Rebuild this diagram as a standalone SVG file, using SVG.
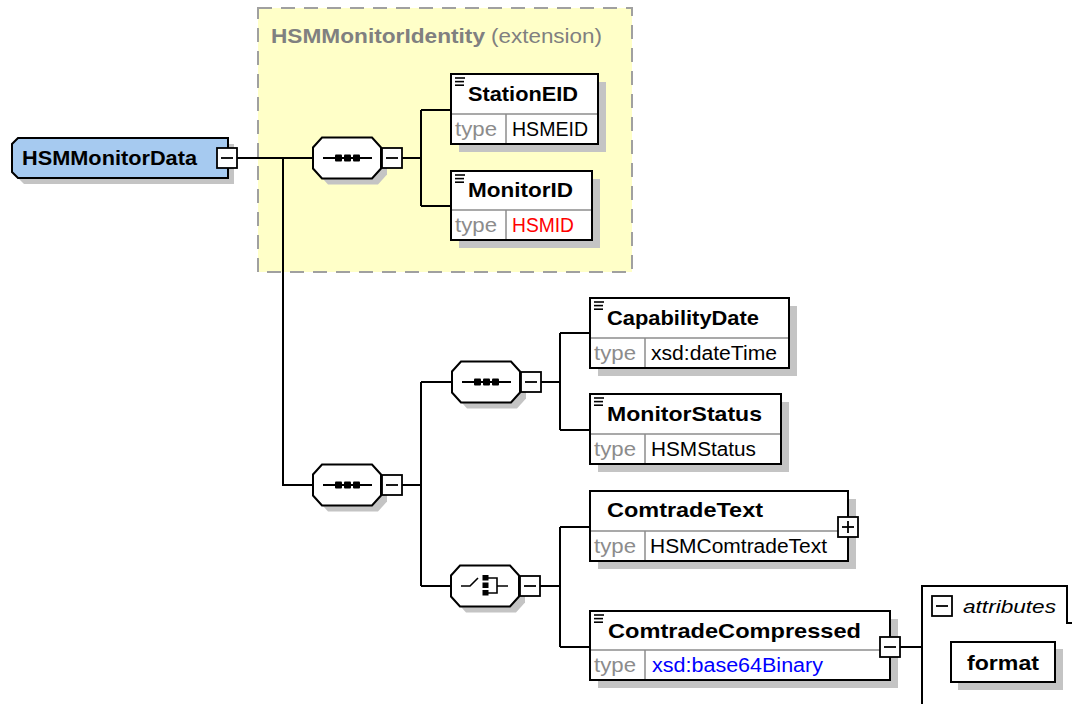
<svg xmlns="http://www.w3.org/2000/svg" xmlns:xlink="http://www.w3.org/1999/xlink" width="1072" height="704" viewBox="0 0 1072 704">
<style>
  .bg{fill:#ffffff}
  .ext{fill:#ffffc8;stroke:#a0a0a0;stroke-width:2;stroke-dasharray:14 9}
  .shadow{fill:#c4c4c4;stroke:none}
  .box{fill:#ffffff;stroke:#000000;stroke-width:2}
  .root{fill:#a6caf0;stroke:#000000;stroke-width:2}
  .div{stroke:#8c8c8c;stroke-width:1.5;fill:none}
  .conn{stroke:#000000;stroke-width:2;fill:none}
  .icon{stroke:#000000;stroke-width:1.6;fill:none}
  .sq{fill:#000000}
  .name{font-family:"Liberation Sans",Arial,sans-serif;font-weight:bold;font-size:21px;fill:#000000}
  .ttl{font-family:"Liberation Sans",Arial,sans-serif;font-weight:bold;font-size:21px;fill:#808080}
  .ext-t{font-family:"Liberation Sans",Arial,sans-serif;font-size:20px;fill:#808080}
  .tl{font-family:"Liberation Sans",Arial,sans-serif;font-size:20px;fill:#8c8c8c}
  .tv{font-family:"Liberation Sans",Arial,sans-serif;font-size:20px;fill:#000000}
  .red{fill:#ff0000}
  .blue{fill:#0000ff}
  .ital{font-family:"Liberation Sans",Arial,sans-serif;font-style:italic;font-size:19px;fill:#000000}
</style>
<defs>
  <polygon id="oct" points="9,-20.5 59,-20.5 68,-10.5 68,10.5 59,20.5 9,20.5 0,10.5 0,-10.5"/>
  <g id="minus">
    <rect x="0" y="-10" width="20" height="20" fill="#ffffff" stroke="#000000" stroke-width="1.8"/>
    <line x1="4" y1="0" x2="16" y2="0" stroke="#000000" stroke-width="1.8"/>
  </g>
  <g id="plus">
    <rect x="0" y="-10" width="20" height="20" fill="#ffffff" stroke="#000000" stroke-width="1.8"/>
    <line x1="4" y1="0" x2="16" y2="0" stroke="#000000" stroke-width="1.8"/>
    <line x1="10" y1="-6" x2="10" y2="6" stroke="#000000" stroke-width="1.8"/>
  </g>
  <g id="doc">
    <line x1="0" y1="0" x2="10" y2="0" stroke="#000000" stroke-width="1.6"/>
    <line x1="0" y1="3.6" x2="9" y2="3.6" stroke="#000000" stroke-width="1.6"/>
    <line x1="0" y1="7.2" x2="9" y2="7.2" stroke="#000000" stroke-width="1.6"/>
  </g>
  <g id="seqIcon">
    <line x1="10" y1="0" x2="59" y2="0" stroke="#000000" stroke-width="1.8"/>
    <rect x="22" y="-3.5" width="7" height="7" rx="1" fill="#000000"/>
    <rect x="31" y="-3.5" width="7" height="7" rx="1" fill="#000000"/>
    <rect x="40" y="-3.5" width="7" height="7" rx="1" fill="#000000"/>
  </g>
</defs>

<rect class="bg" x="0" y="0" width="1072" height="704"/>

<g id="HSMMonitorIdentity">
  <rect class="ext" x="258" y="8" width="374" height="264"/>
  <text class="ttl" x="271" y="43" textLength="214" lengthAdjust="spacingAndGlyphs">HSMMonitorIdentity</text>
  <text class="ext-t" x="491" y="43" textLength="111" lengthAdjust="spacingAndGlyphs">(extension)</text>
</g>

<g id="connectors">
  <path class="conn" d="M237,158 H313"/>
  <path class="conn" d="M283,158 V485 H313"/>
  <path class="conn" d="M402,158 H421 M421,110 V206 M421,110 H451 M421,206 H451"/>
  <path class="conn" d="M402,485 H421 M421,382 V586 M421,382 H452 M421,586 H451"/>
  <path class="conn" d="M540,382 H560 M560,333 V430 M560,333 H590 M560,430 H590"/>
  <path class="conn" d="M540,586 H560 M560,527 V647 M560,527 H590 M560,647 H590"/>
  <path class="conn" d="M900,647 H922"/>
</g>

<g id="HSMMonitorData">
  <polygon class="shadow" points="24,144 234,144 234,184 24,184 18,178 18,150"/>
  <polygon class="root" points="18,138 228,138 228,178 18,178 12,172 12,144"/>
  <text class="name" x="22" y="165" textLength="175" lengthAdjust="spacingAndGlyphs">HSMMonitorData</text>
  <use xlink:href="#minus" href="#minus" x="217" y="158"/>
</g>

<g id="seq1">
  <use xlink:href="#oct" href="#oct" class="shadow" transform="translate(319,164)"/>
  <use xlink:href="#oct" href="#oct" class="box" transform="translate(313,158)"/>
  <use xlink:href="#seqIcon" href="#seqIcon" transform="translate(313,158)"/>
  <use xlink:href="#minus" href="#minus" x="382" y="158"/>
</g>

<g id="StationEID">
  <rect class="shadow" x="459" y="82" width="147" height="70"/>
  <rect class="box" x="451" y="74" width="147" height="70"/>
  <line class="div" x1="452" y1="114" x2="597" y2="114"/>
  <line class="div" x1="506" y1="114" x2="506" y2="143"/>
  <use xlink:href="#doc" href="#doc" x="455" y="78"/>
  <text class="name" x="468" y="101" textLength="110" lengthAdjust="spacingAndGlyphs">StationEID</text>
  <text class="tl" x="455" y="136" textLength="42" lengthAdjust="spacingAndGlyphs">type</text>
  <text class="tv" x="512" y="136" textLength="76" lengthAdjust="spacingAndGlyphs">HSMEID</text>
</g>

<g id="MonitorID">
  <rect class="shadow" x="459" y="179" width="141" height="69"/>
  <rect class="box" x="451" y="171" width="141" height="69"/>
  <line class="div" x1="452" y1="210" x2="591" y2="210"/>
  <line class="div" x1="506" y1="210" x2="506" y2="239"/>
  <use xlink:href="#doc" href="#doc" x="455" y="175"/>
  <text class="name" x="468" y="197" textLength="105" lengthAdjust="spacingAndGlyphs">MonitorID</text>
  <text class="tl" x="455" y="232" textLength="42" lengthAdjust="spacingAndGlyphs">type</text>
  <text class="tv red" x="512" y="232" textLength="62" lengthAdjust="spacingAndGlyphs">HSMID</text>
</g>

<g id="seq2">
  <use xlink:href="#oct" href="#oct" class="shadow" transform="translate(319,491)"/>
  <use xlink:href="#oct" href="#oct" class="box" transform="translate(313,485)"/>
  <use xlink:href="#seqIcon" href="#seqIcon" transform="translate(313,485)"/>
  <use xlink:href="#minus" href="#minus" x="382" y="485"/>
</g>

<g id="seq3">
  <use xlink:href="#oct" href="#oct" class="shadow" transform="translate(458,388)"/>
  <use xlink:href="#oct" href="#oct" class="box" transform="translate(452,382)"/>
  <use xlink:href="#seqIcon" href="#seqIcon" transform="translate(452,382)"/>
  <use xlink:href="#minus" href="#minus" x="521" y="382"/>
</g>

<g id="choice">
  <use xlink:href="#oct" href="#oct" class="shadow" transform="translate(457,592)"/>
  <use xlink:href="#oct" href="#oct" class="box" transform="translate(451,586)"/>
  <path class="icon" d="M461,586 H470 L478,578"/>
  <rect class="sq" x="482.5" y="575" width="6" height="5.5"/>
  <rect class="sq" x="482.5" y="582.5" width="6" height="5.5"/>
  <rect class="sq" x="482.5" y="590" width="6" height="5.5"/>
  <path class="icon" d="M488,578 H497 V593 H488 M497,586 H508"/>
  <use xlink:href="#minus" href="#minus" x="520" y="586"/>
</g>

<g id="CapabilityDate">
  <rect class="shadow" x="598" y="306" width="199" height="70"/>
  <rect class="box" x="590" y="298" width="199" height="70"/>
  <line class="div" x1="591" y1="338" x2="788" y2="338"/>
  <line class="div" x1="645" y1="338" x2="645" y2="367"/>
  <use xlink:href="#doc" href="#doc" x="594" y="302"/>
  <text class="name" x="607" y="325" textLength="152" lengthAdjust="spacingAndGlyphs">CapabilityDate</text>
  <text class="tl" x="594" y="360" textLength="42" lengthAdjust="spacingAndGlyphs">type</text>
  <text class="tv" x="651" y="360" textLength="126" lengthAdjust="spacingAndGlyphs">xsd:dateTime</text>
</g>

<g id="MonitorStatus">
  <rect class="shadow" x="598" y="402" width="191" height="70"/>
  <rect class="box" x="590" y="394" width="191" height="70"/>
  <line class="div" x1="591" y1="434" x2="780" y2="434"/>
  <line class="div" x1="645" y1="434" x2="645" y2="463"/>
  <use xlink:href="#doc" href="#doc" x="594" y="398"/>
  <text class="name" x="607" y="421" textLength="155" lengthAdjust="spacingAndGlyphs">MonitorStatus</text>
  <text class="tl" x="594" y="456" textLength="42" lengthAdjust="spacingAndGlyphs">type</text>
  <text class="tv" x="651" y="456" textLength="105" lengthAdjust="spacingAndGlyphs">HSMStatus</text>
</g>

<g id="ComtradeText">
  <rect class="shadow" x="598" y="499" width="258" height="70"/>
  <rect class="box" x="590" y="491" width="258" height="70"/>
  <line class="div" x1="591" y1="531" x2="847" y2="531"/>
  <line class="div" x1="645" y1="531" x2="645" y2="560"/>
  <text class="name" x="607" y="517" textLength="156" lengthAdjust="spacingAndGlyphs">ComtradeText</text>
  <text class="tl" x="594" y="553" textLength="42" lengthAdjust="spacingAndGlyphs">type</text>
  <text class="tv" x="650" y="553" textLength="177" lengthAdjust="spacingAndGlyphs">HSMComtradeText</text>
  <use xlink:href="#plus" href="#plus" x="838" y="527"/>
</g>

<g id="ComtradeCompressed">
  <rect class="shadow" x="598" y="619" width="300" height="69"/>
  <rect class="box" x="590" y="611" width="300" height="69"/>
  <line class="div" x1="591" y1="650" x2="889" y2="650"/>
  <line class="div" x1="645" y1="650" x2="645" y2="679"/>
  <use xlink:href="#doc" href="#doc" x="594" y="615"/>
  <text class="name" x="608" y="638" textLength="253" lengthAdjust="spacingAndGlyphs">ComtradeCompressed</text>
  <text class="tl" x="594" y="672" textLength="42" lengthAdjust="spacingAndGlyphs">type</text>
  <text class="tv blue" x="652" y="672" textLength="171" lengthAdjust="spacingAndGlyphs">xsd:base64Binary</text>
  <use xlink:href="#minus" href="#minus" x="880" y="647"/>
</g>

<g id="attributes">
  <path d="M922,712 V586 H1067 V623 H1080" fill="#ffffff" stroke="#000000" stroke-width="2"/>
  <use xlink:href="#minus" href="#minus" x="932" y="606"/>
  <text class="ital" x="963" y="613" textLength="93" lengthAdjust="spacingAndGlyphs">attributes</text>
</g>

<g id="format">
  <rect class="shadow" x="958" y="649" width="105" height="41"/>
  <rect class="box" x="951" y="642" width="104" height="40"/>
  <text class="name" x="967" y="670" textLength="72" lengthAdjust="spacingAndGlyphs">format</text>
</g>
</svg>
